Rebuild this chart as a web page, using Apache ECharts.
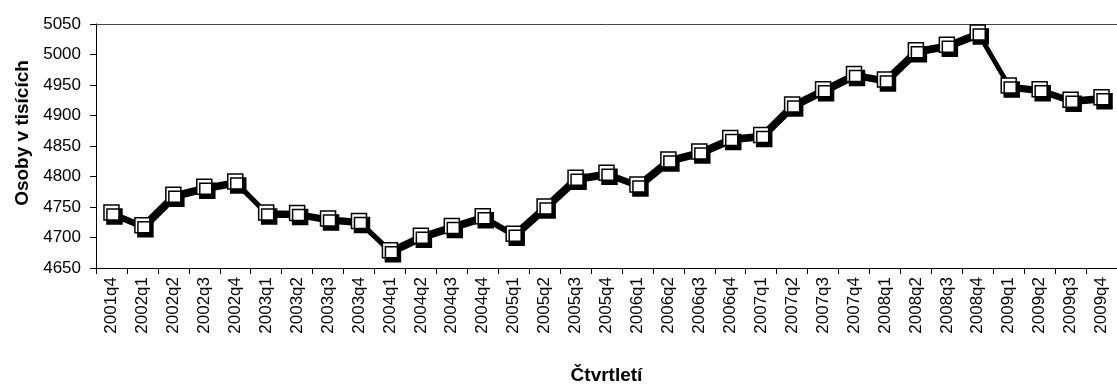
<!DOCTYPE html>
<html>
<head>
<meta charset="utf-8">
<script src="https://cdn.jsdelivr.net/npm/echarts@6/dist/echarts.min.js"></script>
<style>html,body{margin:0;padding:0;background:#fff}#c{width:1117px;height:390px}</style>
</head>
<body>
<div id="c"></div>
<script>
const categories = ["2001q4","2002q1","2002q2","2002q3","2002q4","2003q1","2003q2","2003q3","2003q4","2004q1","2004q2","2004q3","2004q4","2005q1","2005q2","2005q3","2005q4","2006q1","2006q2","2006q3","2006q4","2007q1","2007q2","2007q3","2007q4","2008q1","2008q2","2008q3","2008q4","2009q1","2009q2","2009q3","2009q4"];
const values = [4741,4720,4770,4783,4792,4741,4740,4731,4727,4679,4703,4719,4735,4706,4751,4798,4806,4787,4828,4841,4863,4868,4918,4943,4968,4959,5007,5016,5036,4949,4943,4926,4930];
const yName = "Osoby v tisících";
const xName = "Čtvrtletí";

const chart = echarts.init(document.getElementById('c'), null, {renderer: 'canvas'});
const font = "'Liberation Sans', Arial, sans-serif";
chart.setOption({
  backgroundColor: '#fff',
  animation: false,
  grid: {left: 96, top: 24, bottom: 116, right: -12},
  xAxis: [{
    type: 'category',
    data: categories,
    boundaryGap: true,
    name: xName,
    nameLocation: 'middle',
    nameGap: 98,
    nameTextStyle: {fontFamily: font, fontWeight: 'bold', fontSize: 19, color: '#000', verticalAlign: 'top'},
    axisLine: {show: true, lineStyle: {color: '#000', width: 1}},
    axisTick: {show: true, length: 6, inside: false, lineStyle: {color: '#000'}},
    axisLabel: {rotate: 90, margin: 9, interval: 0, fontFamily: font, fontSize: 17, color: '#000'},
    splitLine: {show: false}
  }, {
    type: 'category',
    data: categories,
    position: 'top',
    axisLine: {show: true, onZero: false, lineStyle: {color: '#444', width: 1}},
    axisTick: {show: false},
    axisLabel: {show: false},
    splitLine: {show: false}
  }],
  yAxis: {
    type: 'value',
    min: 4650, max: 5050, interval: 50,
    name: yName,
    nameLocation: 'middle',
    nameGap: 57,
    nameTextStyle: {fontFamily: font, fontWeight: 'bold', fontSize: 19, color: '#000', padding: [0, 0, 0, 26]},
    axisLine: {show: true, lineStyle: {color: '#000', width: 1}},
    axisTick: {show: true, length: 6, lineStyle: {color: '#000'}},
    axisLabel: {margin: 15, fontFamily: font, fontSize: 17, color: '#000', formatter: function (v) { return String(v); }},
    splitLine: {show: false}
  },
  series: [{
    type: 'line',
    data: values,
    symbol: 'rect',
    symbolSize: 15,
    lineStyle: {color: '#000', width: 4.5, shadowColor: '#000', shadowOffsetX: 2, shadowOffsetY: 3, shadowBlur: 0},
    itemStyle: {color: '#fff', borderColor: '#000', borderWidth: 1.5, shadowColor: '#000', shadowOffsetX: 3, shadowOffsetY: 4, shadowBlur: 0},
    z: 3
  }]
});
</script>
</body>
</html>
